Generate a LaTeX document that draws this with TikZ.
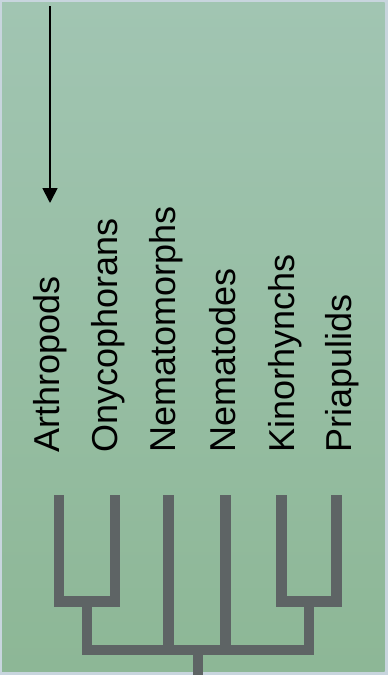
\documentclass[tikz,border=0pt]{standalone}
\usepackage{fontspec}
\setmainfont{Liberation Sans}
\usetikzlibrary{arrows.meta}
\definecolor{bgtop}{HTML}{A1C5B2}
\definecolor{bgbot}{HTML}{8DB796}
\definecolor{frame}{HTML}{C8D5DE}
\definecolor{branch}{HTML}{5E6465}
\tikzset{
  taxon/.style={rotate=90, anchor=base west, inner sep=0pt, font=\fontsize{36}{40}\selectfont, text=black},
  branchline/.style={draw=branch, line width=10.5pt, line join=miter, line cap=butt},
}
\begin{document}
\begin{tikzpicture}[x=1pt,y=-1pt]
\useasboundingbox (0,0) rectangle (388,675);
\fill[frame] (0,0) rectangle (388,675);
\shade[top color=bgtop, bottom color=bgbot] (2,2.5) rectangle (384.5,671.5);
% arrow
\coordinate (arrowstart) at (50,6);
\coordinate (arrowend) at (50,203);
\draw[line width=1.8pt, -{Triangle[width=15pt,length=15pt]}] (arrowstart) -- (arrowend);
% taxa
\node[taxon] (arth) at (59.3,452.5) {Arthropods};
\node[taxon] (onyc) at (117.3,452.5) {Onycophorans};
\node[taxon] (nmor) at (175.3,452.5) {Nematomorphs};
\node[taxon] (nema) at (235.5,452.5) {Nematodes};
\node[taxon] (kino) at (294,452.5) {Kinorhynchs};
\node[taxon] (pria) at (351.5,452.5) {Priapulids};
% tree coordinates
\coordinate (tA) at (59,495);
\coordinate (tO) at (115,495);
\coordinate (tM) at (168.7,495);
\coordinate (tN) at (225.3,495);
\coordinate (tK) at (281.3,495);
\coordinate (tP) at (336.7,495);
\coordinate (jL) at (87,601.5);
\coordinate (jR) at (309,601.5);
\coordinate (bL) at (87,650);
\coordinate (bR) at (309,650);
\coordinate (rootj) at (198,650);
\coordinate (root) at (198,675);
% tree
\draw[branchline] (tA) -- (tA |- jL) -- (tO |- jL) -- (tO);
\draw[branchline] (tK) -- (tK |- jR) -- (tP |- jR) -- (tP);
\draw[branchline] (jL) -- (bL) -- (bR) -- (jR);
\draw[branchline] (tM) -- (tM |- bL);
\draw[branchline] (tN) -- (tN |- bL);
\draw[branchline] (rootj) -- (root);
\end{tikzpicture}
\end{document}
